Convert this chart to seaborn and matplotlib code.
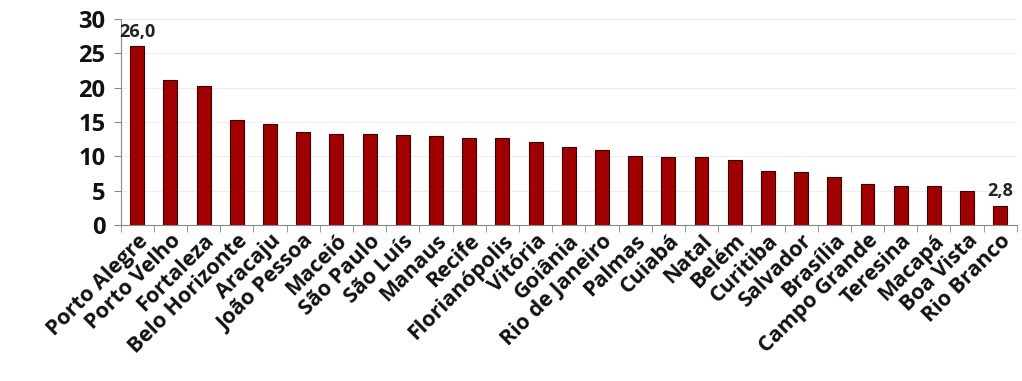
import pandas as pd
import seaborn as sns
import matplotlib.pyplot as plt
from matplotlib.ticker import FixedLocator

# Data
cidades = ['Porto Alegre', 'Porto Velho', 'Fortaleza', 'Belo Horizonte', 'Aracaju',
           'João Pessoa', 'Maceió', 'São Paulo', 'São Luís', 'Manaus', 'Recife',
           'Florianópolis', 'Vitória', 'Goiânia', 'Rio de Janeiro', 'Palmas', 'Cuiabá',
           'Natal', 'Belém', 'Curitiba', 'Salvador', 'Brasília', 'Campo Grande',
           'Teresina', 'Macapá', 'Boa Vista', 'Rio Branco']
valores = [26.0, 21.1, 20.3, 15.3, 14.7, 13.6, 13.3, 13.3, 13.1, 12.9, 12.7,
           12.6, 12.0, 11.3, 10.9, 10.0, 9.9, 9.9, 9.4, 7.9, 7.7, 6.9, 6.0,
           5.7, 5.7, 5.0, 2.8]
yticks = [0, 5, 10, 15, 20, 25, 30]

df = pd.DataFrame({'cidade': cidades, 'valor': valores})

sns.set_style('white')
plt.rcParams['font.family'] = ['Open Sans', 'DejaVu Sans']

fig, ax = plt.subplots(figsize=(10.22, 3.81), dpi=100)
sns.barplot(data=df, x='cidade', y='valor', color='#a00000', width=0.42,
            edgecolor='#3a0000', linewidth=0.8, saturation=1, ax=ax)

ax.set_ylim(0, 30)
ax.set_xlim(-0.5, len(cidades) - 0.5)
ax.set_yticks(yticks)
ax.yaxis.grid(True, color='#eeeeee', linewidth=0.8)
ax.set_axisbelow(True)
ax.set_xlabel('')
ax.set_ylabel('')

# tick marks between categories
ax.xaxis.set_minor_locator(FixedLocator([i - 0.5 for i in range(len(cidades) + 1)]))
ax.tick_params(axis='x', which='major', length=0, pad=4)
ax.tick_params(axis='x', which='minor', length=5, color='#888888', direction='out', bottom=True)
ax.tick_params(axis='y', length=5, color='#888888', direction='out', left=True, pad=6)
ax.set_xticks(range(len(cidades)))
ax.set_xticklabels(cidades, rotation=45, ha='right', rotation_mode='anchor',
                   fontsize=15.5, fontweight='bold', color='#111111')
for lbl in ax.get_yticklabels():
    lbl.set_fontsize(17)
    lbl.set_fontweight('bold')
    lbl.set_color('#111111')

for s in ['top', 'right']:
    ax.spines[s].set_visible(False)
for s in ['left', 'bottom']:
    ax.spines[s].set_color('#888888')

# value labels for first and last bars
for i in [0, len(valores) - 1]:
    ax.text(i, valores[i] + 0.8, f'{valores[i]:.1f}'.replace('.', ','),
            ha='center', va='bottom', fontsize=13, fontweight='bold', color='#222222')

fig.subplots_adjust(left=0.118, right=0.995, top=0.95, bottom=0.41)
fig.savefig('out.png', dpi=100)
